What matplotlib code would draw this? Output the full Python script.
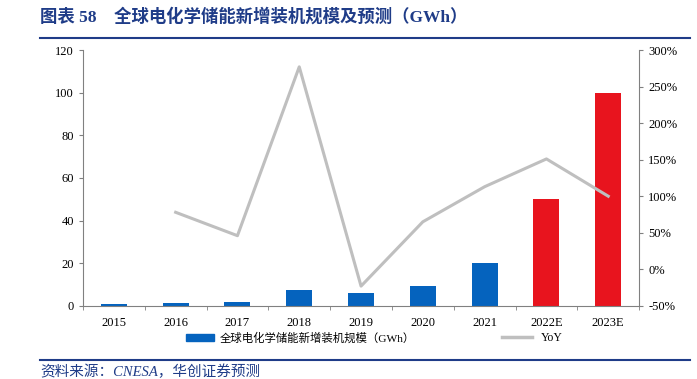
import numpy as np
import matplotlib.pyplot as plt
from matplotlib.ticker import FixedLocator
from matplotlib.lines import Line2D
from matplotlib.patches import Patch

plt.rcParams['font.family'] = ['Liberation Serif', 'Noto Sans CJK SC']
plt.rcParams['axes.unicode_minus'] = False

years = ['2015', '2016', '2017', '2018', '2019', '2020', '2021', '2022E', '2023E']
capacity = [0.7, 1.3, 2.0, 7.4, 5.8, 9.5, 20.0, 50.0, 100.0]
yoy_years = ['2016', '2017', '2018', '2019', '2020', '2021', '2022E', '2023E']
yoy = [78, 46, 277, -23, 65, 113, 151, 100]

blue = '#0563BE'
red = '#E8141E'
gray = '#BFBFBF'
axis_gray = '#808080'
title_blue = '#1F3C88'

fig = plt.figure(figsize=(6.97, 3.79), dpi=100)
ax = fig.add_axes([0.119, 0.193, 0.798, 0.675])
x = np.arange(len(years))
colors = [blue] * 7 + [red] * 2
ax.bar(x, capacity, width=0.42, color=colors, zorder=2)
ax.set_xlim(-0.5, len(years) - 0.5)
ax.set_ylim(0, 120)
ax.set_yticks(range(0, 121, 20))
ax.set_xticks(x)
ax.set_xticklabels(years)
ax.xaxis.set_minor_locator(FixedLocator(np.arange(-0.5, len(years), 1)))
ax.tick_params(axis='x', which='major', length=0, labelsize=9, pad=8)
ax.tick_params(axis='x', which='minor', length=3, color=axis_gray, direction='out')
ax.tick_params(axis='y', length=3, color=axis_gray, labelsize=9)
for s in ['top', 'right']:
    ax.spines[s].set_visible(False)
for s in ['left', 'bottom']:
    ax.spines[s].set_color(axis_gray)

ax2 = ax.twinx()
xi = [years.index(y) for y in yoy_years]
ax2.plot(xi, yoy, color=gray, lw=2.2, zorder=3)
ax2.set_ylim(-50, 300)
ax2.set_yticks(range(-50, 301, 50))
ax2.set_yticklabels([f'{v}%' for v in range(-50, 301, 50)])
ax2.tick_params(axis='y', length=3, color=axis_gray, labelsize=9)
for s in ['top', 'left', 'bottom']:
    ax2.spines[s].set_visible(False)
ax2.spines['right'].set_color(axis_gray)

fig.legend([Patch(color=blue)], ['全球电化学储能新增装机规模（GWh）'], loc='center left',
           bbox_to_anchor=(0.252, 0.108), frameon=False, fontsize=8.2,
           handlelength=2.5, handleheight=0.6, handletextpad=0.5)
fig.legend([Line2D([0], [0], color=gray, lw=2.5)], ['YoY'], loc='center left',
           bbox_to_anchor=(0.705, 0.108), frameon=False, fontsize=8.5,
           handlelength=2.5, handletextpad=0.8)

fig.text(0.058, 0.955, '图表 58    全球电化学储能新增装机规模及预测（GWh）',
         fontsize=12.5, fontweight='bold', color=title_blue, va='center')
fig.add_artist(Line2D([0.058, 0.99], [0.9, 0.9], color=title_blue, lw=1.5))
fig.add_artist(Line2D([0.058, 0.99], [0.05, 0.05], color=title_blue, lw=1.5))
fig.text(0.058, 0.018, '资料来源：CNESA，华创证券预测', fontsize=10.5,
         style='italic', color=title_blue, va='center')

fig.savefig('out.png', dpi=100)
